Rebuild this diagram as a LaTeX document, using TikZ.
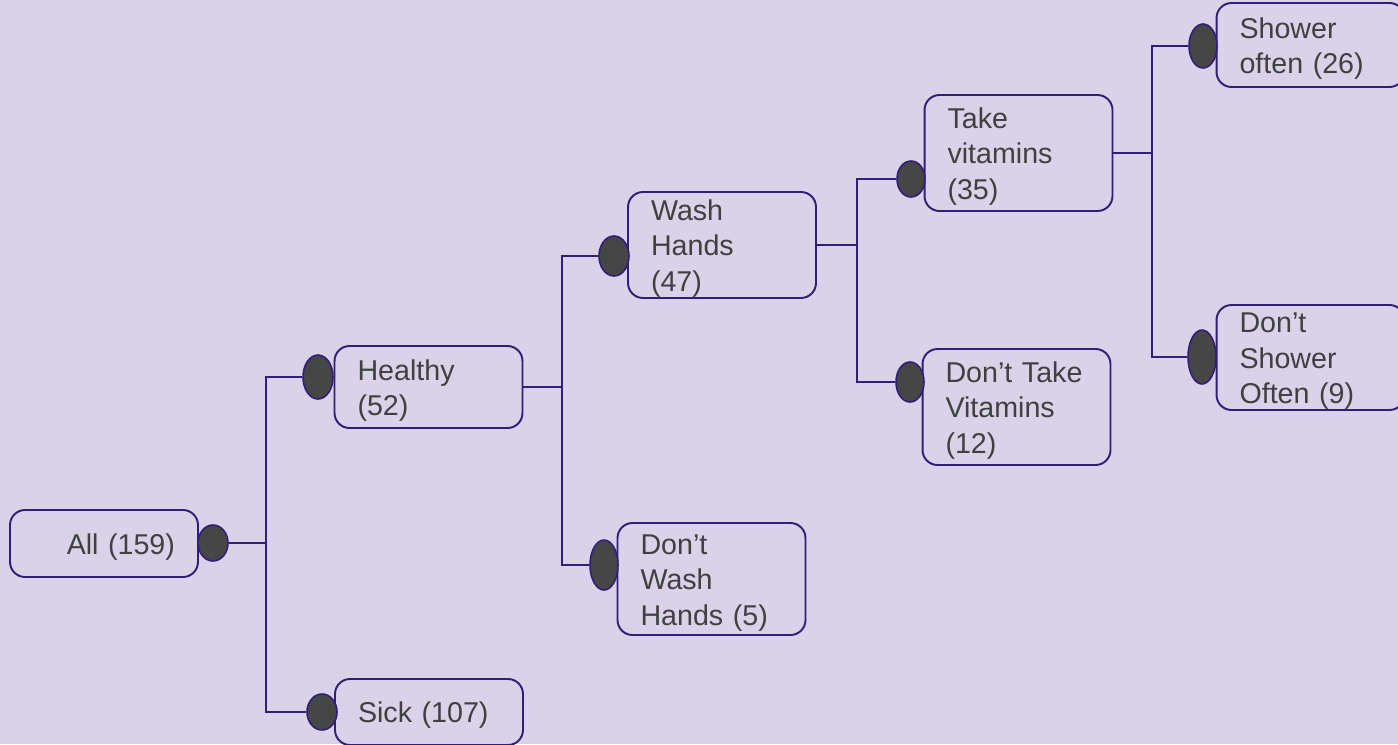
\documentclass[tikz,border=0pt]{standalone}
\usepackage{fontspec}
\setmainfont{Liberation Sans}
\usetikzlibrary{shapes.geometric}
\definecolor{bgc}{RGB}{218,210,232}
\definecolor{linec}{RGB}{50,30,120}
\definecolor{dotc}{RGB}{70,70,70}
\definecolor{txtc}{RGB}{64,64,64}

\begin{document}
\begin{tikzpicture}[x=0.02cm, y=-0.02cm,
    box/.style={draw=linec, line width=1.1pt, rounded corners=0.3cm, text=txtc,
      font=\fontsize{16.3}{20.1}\selectfont, align=left, text width=2.84cm,
      execute at begin node={\rule{0pt}{15.6pt}},
      inner xsep=0.46cm, inner ysep=0pt},
    dot/.style={ellipse, draw=linec, line width=0.9pt, fill=dotc, inner sep=0pt},
    link/.style={draw=linec, line width=1.1pt}]
  \useasboundingbox (0,0) rectangle (1398,744);
  \fill[bgc] (0,0) rectangle (1398,744);
  \clip (0,0) rectangle (1398,744);
  % boxes, positions in pixels of the page
  \node[box, align=right, minimum height=1.34cm] (all) at (104,543.5) {All (159)};
  \node[box, minimum height=1.64cm] (healthy) at (428.5,387) {Healthy\\(52)};
  \node[box, minimum height=1.32cm] (sick) at (429,712) {Sick (107)};
  \node[box, minimum height=2.12cm] (wash) at (722,245) {Wash\\Hands\\(47)};
  \node[box, minimum height=2.24cm] (dontwash) at (711.5,579) {Don’t\\Wash\\Hands (5)};
  \node[box, minimum height=2.32cm] (take) at (1018.5,153) {Take\\vitamins\\(35)};
  \node[box, minimum height=2.32cm] (donttake) at (1016.5,407) {Don’t Take\\Vitamins\\(12)};
  \node[box, minimum height=1.68cm] (shower) at (1310.5,45) {Shower\\often (26)};
  \node[box, minimum height=2.10cm] (dontshower) at (1310.5,357.5) {Don’t\\Shower\\Often (9)};
  % dots
  \node[dot, minimum width=0.60cm, minimum height=0.72cm] (eall) at (213,543) {};
  \node[dot, minimum width=0.60cm, minimum height=0.88cm] (ehealthy) at (318,377) {};
  \node[dot, minimum width=0.60cm, minimum height=0.72cm] (esick) at (322,712) {};
  \node[dot, minimum width=0.60cm, minimum height=0.80cm] (ewash) at (614,256) {};
  \node[dot, minimum width=0.56cm, minimum height=1.00cm] (edontwash) at (604,565) {};
  \node[dot, minimum width=0.56cm, minimum height=0.72cm] (etake) at (911,179) {};
  \node[dot, minimum width=0.56cm, minimum height=0.80cm] (edonttake) at (910,382) {};
  \node[dot, minimum width=0.56cm, minimum height=0.88cm] (eshower) at (1203,46) {};
  \node[dot, minimum width=0.56cm, minimum height=1.08cm] (edontshower) at (1202,357) {};
  % branch points
  \coordinate (j1) at (266,543);
  \coordinate (j2) at (562,387);
  \coordinate (j3) at (857,245);
  \coordinate (j4) at (1152,153);
  \draw[link] (eall.east) -- (j1) |- (ehealthy.west);
  \draw[link] (j1) |- (esick.west);
  \draw[link] (healthy.east) -- (j2) |- (ewash.west);
  \draw[link] (j2) |- (edontwash.west);
  \draw[link] (wash.east) -- (j3) |- (etake.west);
  \draw[link] (j3) |- (edonttake.west);
  \draw[link] (take.east) -- (j4) |- (eshower.west);
  \draw[link] (j4) |- (edontshower.west);
\end{tikzpicture}
\end{document}
